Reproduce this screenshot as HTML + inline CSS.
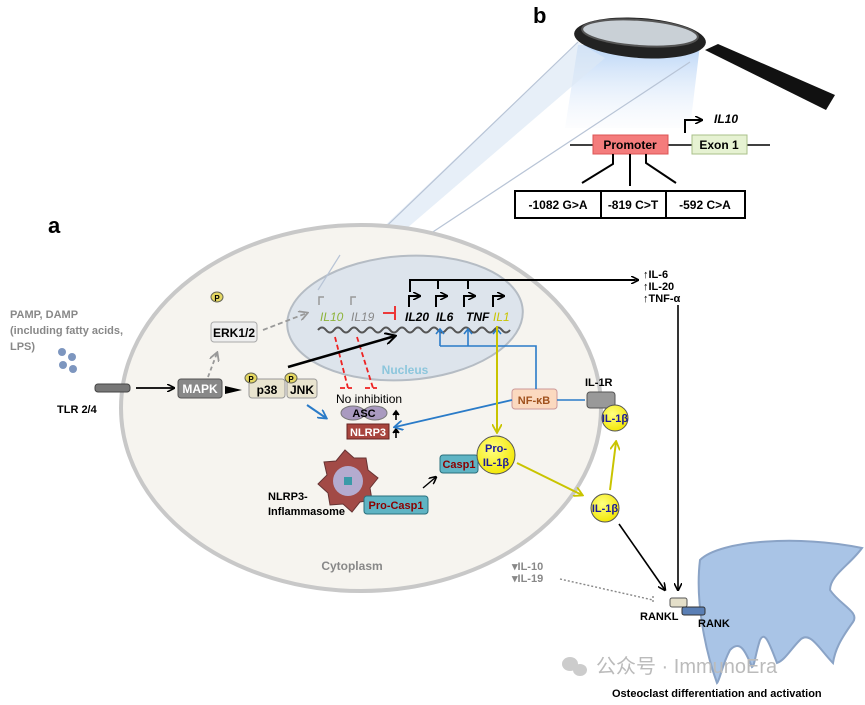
<!DOCTYPE html>
<html><head><meta charset="utf-8"><style>
html,body{margin:0;padding:0;background:#fff;}
svg{display:block;font-family:"Liberation Sans","Noto Sans CJK SC",sans-serif;}
</style></head><body>
<svg width="865" height="705" viewBox="0 0 865 705" xmlns="http://www.w3.org/2000/svg">
<defs>
<marker id="ak" markerWidth="8" markerHeight="8" refX="7" refY="4" orient="auto" markerUnits="userSpaceOnUse"><path d="M0,0 L8,4 L0,8" fill="none" stroke="#000" stroke-width="1.6"/></marker>
<marker id="ab" markerWidth="10" markerHeight="10" refX="8" refY="5" orient="auto" markerUnits="userSpaceOnUse"><path d="M0,0 L9,5 L0,10" fill="none" stroke="#2a7bc8" stroke-width="1.8"/></marker>
<marker id="ay" markerWidth="10" markerHeight="10" refX="8" refY="5" orient="auto" markerUnits="userSpaceOnUse"><path d="M0,0 L9,5 L0,10" fill="none" stroke="#c9c400" stroke-width="1.8"/></marker>
<marker id="ag" markerWidth="10" markerHeight="10" refX="8" refY="5" orient="auto" markerUnits="userSpaceOnUse"><path d="M0,0 L9,5 L0,10" fill="none" stroke="#999" stroke-width="1.8"/></marker>
<marker id="abk" markerWidth="12" markerHeight="12" refX="10" refY="6" orient="auto" markerUnits="userSpaceOnUse"><path d="M0,0 L11,6 L0,12" fill="none" stroke="#000" stroke-width="2"/></marker>
<linearGradient id="cone" x1="0" y1="0" x2="0" y2="1"><stop offset="0" stop-color="#6fa8ee" stop-opacity="0.8"/><stop offset="1" stop-color="#dfe9f7" stop-opacity="0.15"/></linearGradient>
<radialGradient id="yel" cx="0.4" cy="0.35" r="0.7"><stop offset="0" stop-color="#ffff80"/><stop offset="1" stop-color="#f2e600"/></radialGradient>
</defs>

<!-- light cone -->
<polygon points="578,45 700,45 690,128 565,128" fill="url(#cone)" opacity="0.6"/>
<polygon points="578,42 605,58 335,290 315,292" fill="#dde8f5" opacity="0.7"/>
<line x1="578" y1="42" x2="318" y2="292" stroke="#b8c4d6" stroke-width="1.2"/>
<line x1="690" y1="62" x2="345" y2="290" stroke="#b8c4d6" stroke-width="1.2"/>

<!-- magnifier -->
<polygon points="705,50 718,44 835,95 826,110" fill="#111"/>
<ellipse cx="640" cy="38" rx="66" ry="20" fill="#222" transform="rotate(4 640 38)"/>
<ellipse cx="640" cy="33" rx="58" ry="13" fill="#c9d0d6" stroke="#555" stroke-width="2" transform="rotate(4 640 33)"/>

<text x="533" y="23" font-size="22" font-weight="bold">b</text>
<text x="48" y="233" font-size="22" font-weight="bold">a</text>

<!-- gene structure -->
<line x1="570" y1="145" x2="770" y2="145" stroke="#000" stroke-width="1.5"/>
<rect x="593" y="135" width="75" height="19" fill="#f47c7c" stroke="#d55"/>
<text x="630" y="149" font-size="12" font-weight="bold" text-anchor="middle">Promoter</text>
<rect x="692" y="135" width="55" height="19" fill="#e6f2d2" stroke="#aac08a"/>
<text x="719" y="149" font-size="12" font-weight="bold" text-anchor="middle">Exon 1</text>
<path d="M685,133 V120 H702" fill="none" stroke="#000" stroke-width="2" marker-end="url(#ak)"/>
<text x="714" y="123" font-size="12" font-weight="bold" font-style="italic">IL10</text>
<path d="M613,154 V164 L582,183 M630,154 V186 M646,154 V163 L676,183" fill="none" stroke="#000" stroke-width="2"/>
<rect x="515" y="191" width="230" height="27" fill="#fff" stroke="#000" stroke-width="2"/>
<line x1="601" y1="191" x2="601" y2="218" stroke="#000" stroke-width="2"/>
<line x1="666" y1="191" x2="666" y2="218" stroke="#000" stroke-width="2"/>
<text x="558" y="209" font-size="12" font-weight="bold" text-anchor="middle">-1082 G&gt;A</text>
<text x="633" y="209" font-size="12" font-weight="bold" text-anchor="middle">-819 C&gt;T</text>
<text x="705" y="209" font-size="12" font-weight="bold" text-anchor="middle">-592 C&gt;A</text>

<!-- cell -->
<ellipse cx="361" cy="408" rx="240" ry="183" fill="#f6f4ef" stroke="#c8c8c8" stroke-width="4"/>
<ellipse cx="405" cy="318" rx="118" ry="62" fill="#dde4ec" stroke="#b5bcc4" stroke-width="2" transform="rotate(-4 405 318)"/>
<line x1="318" y1="290" x2="340" y2="255" stroke="#b8c4d6" stroke-width="1.2"/>
<text x="405" y="374" font-size="12" font-weight="bold" fill="#8cc6dc" text-anchor="middle">Nucleus</text>
<text x="352" y="570" font-size="12" font-weight="bold" fill="#888" text-anchor="middle">Cytoplasm</text>

<!-- DNA -->
<path d="M318,330 q4,-5 8,0 t8,0 t8,0 t8,0 t8,0 t8,0 t8,0 t8,0 t8,0 t8,0 t8,0 t8,0 t8,0 t8,0 t8,0 t8,0 t8,0 t8,0 t8,0 t8,0 t8,0 t8,0 t8,0 t8,0" fill="none" stroke="#555" stroke-width="2"/>
<g fill="none" stroke="#999" stroke-width="1.5"><path d="M319,305 v-8 h5"/><path d="M351,305 v-8 h5"/></g>
<g fill="none" stroke="#000" stroke-width="2">
<path d="M409,307 v-11 h11" marker-end="url(#ak)"/><path d="M436,307 v-11 h11" marker-end="url(#ak)"/>
<path d="M464,307 v-11 h11" marker-end="url(#ak)"/><path d="M493,307 v-11 h11" marker-end="url(#ak)"/>
<path d="M410,292 v-12 h225" /><path d="M438,280 v9 M468,280 v9"/>
</g>
<line x1="630" y1="280" x2="638" y2="280" stroke="#000" stroke-width="1.5" marker-end="url(#ak)"/>
<text x="320" y="321" font-size="12" font-style="italic" fill="#8db33a">IL10</text>
<text x="351" y="321" font-size="12" font-style="italic" fill="#888">IL19</text>
<text x="405" y="321" font-size="12" font-weight="bold" font-style="italic">IL20</text>
<text x="436" y="321" font-size="12" font-weight="bold" font-style="italic">IL6</text>
<text x="466" y="321" font-size="12" font-weight="bold" font-style="italic">TNF</text>
<text x="493" y="321" font-size="12" font-style="italic" fill="#c9c400">IL1</text>
<path d="M383,313 h11 M395,306 v14" stroke="#e22" stroke-width="1.8" fill="none"/>
<path d="M335,337 L348,388 M340,388 h12 M357,337 L373,388 M365,388 h12" stroke="#e22" stroke-width="1.8" stroke-dasharray="5,3" fill="none"/>
<text x="336" y="403" font-size="12">No  inhibition</text>

<!-- left -->
<text x="10" y="318" font-size="11" font-weight="bold" fill="#888">PAMP, DAMP</text>
<text x="10" y="334" font-size="11" font-weight="bold" fill="#888">(including fatty acids,</text>
<text x="10" y="350" font-size="11" font-weight="bold" fill="#888">LPS)</text>
<g fill="#7d96bf"><circle cx="62" cy="352" r="4"/><circle cx="72" cy="357" r="4"/><circle cx="63" cy="365" r="4"/><circle cx="73" cy="369" r="4"/></g>
<rect x="95" y="384" width="35" height="8" rx="3" fill="#777" stroke="#444"/>
<text x="57" y="413" font-size="11" font-weight="bold">TLR 2/4</text>
<line x1="136" y1="388" x2="174" y2="388" stroke="#000" stroke-width="1.8" marker-end="url(#ak)"/>
<rect x="178" y="379" width="44" height="19" rx="3" fill="#888" stroke="#555"/>
<text x="200" y="393" font-size="12" font-weight="bold" fill="#fff" text-anchor="middle">MAPK</text>
<path d="M225,386 L242,390 L225,394 Z" fill="#000"/>
<line x1="208" y1="377" x2="217" y2="353" stroke="#999" stroke-width="1.8" stroke-dasharray="4,3" marker-end="url(#ag)"/>
<rect x="211" y="322" width="46" height="20" rx="3" fill="#eee" stroke="#aaa"/>
<text x="234" y="337" font-size="12" font-weight="bold" text-anchor="middle">ERK1/2</text>
<ellipse cx="217" cy="297" rx="6" ry="5" fill="#e5d862" stroke="#665"/><text x="217" y="301" font-size="8" font-weight="bold" text-anchor="middle">P</text>
<line x1="263" y1="330" x2="307" y2="313" stroke="#999" stroke-width="1.8" stroke-dasharray="5,3" marker-end="url(#ag)"/>
<rect x="249" y="379" width="36" height="19" rx="3" fill="#e9e4cf" stroke="#999"/>
<text x="267" y="394" font-size="12" font-weight="bold" text-anchor="middle">p38</text>
<rect x="287" y="379" width="30" height="19" rx="3" fill="#e9e4cf" stroke="#999"/>
<text x="302" y="394" font-size="12" font-weight="bold" text-anchor="middle">JNK</text>
<ellipse cx="251" cy="378" rx="6" ry="5" fill="#e5d862" stroke="#665"/><text x="251" y="382" font-size="8" font-weight="bold" text-anchor="middle">P</text>
<ellipse cx="291" cy="378" rx="6" ry="5" fill="#e5d862" stroke="#665"/><text x="291" y="382" font-size="8" font-weight="bold" text-anchor="middle">P</text>
<line x1="288" y1="367" x2="395" y2="336" stroke="#000" stroke-width="2.5" marker-end="url(#abk)"/>
<line x1="307" y1="405" x2="326" y2="418" stroke="#2a7bc8" stroke-width="2" marker-end="url(#ab)"/>

<!-- ASC NLRP3 -->
<ellipse cx="353" cy="413" rx="12" ry="7" fill="#a99ac0" stroke="#777"/>
<ellipse cx="375" cy="413" rx="12" ry="7" fill="#a99ac0" stroke="#777"/>
<text x="364" y="417" font-size="11" font-weight="bold" text-anchor="middle">ASC</text>
<rect x="347" y="424" width="42" height="15" fill="#a8453e" stroke="#622"/>
<text x="368" y="436" font-size="11" font-weight="bold" fill="#fff" text-anchor="middle">NLRP3</text>
<path d="M396,420 v-8 M393,415 l3,-4 l3,4 M396,438 v-8 M393,433 l3,-4 l3,4" stroke="#000" stroke-width="1.6" fill="#000"/>

<!-- inflammasome -->
<polygon points="345,450 354,458 366,458 368,470 378,478 370,488 372,500 360,502 352,512 343,504 330,505 328,493 318,484 327,475 324,462 336,461" fill="#a24a46" stroke="#633"/>
<circle cx="348" cy="481" r="15" fill="#b4abcf"/>
<rect x="344" y="477" width="8" height="8" fill="#3a9aa8"/>
<text x="268" y="500" font-size="11" font-weight="bold">NLRP3-</text>
<text x="268" y="515" font-size="11" font-weight="bold">Inflammasome</text>
<rect x="364" y="496" width="64" height="18" rx="3" fill="#5fb4c4" stroke="#2a6f7c"/>
<text x="396" y="509" font-size="11" font-weight="bold" fill="#8b0000" text-anchor="middle">Pro-Casp1</text>
<line x1="423" y1="488" x2="436" y2="477" stroke="#000" stroke-width="1.4" marker-end="url(#ak)"/>
<rect x="440" y="455" width="38" height="18" rx="3" fill="#5fb4c4" stroke="#2a6f7c"/>
<text x="459" y="468" font-size="11" font-weight="bold" fill="#8b0000" text-anchor="middle">Casp1</text>
<circle cx="496" cy="455" r="19" fill="url(#yel)" stroke="#555"/>
<text x="496" y="452" font-size="11" font-weight="bold" fill="#1a1a9a" text-anchor="middle">Pro-</text>
<text x="496" y="466" font-size="11" font-weight="bold" fill="#1a1a9a" text-anchor="middle">IL-1β</text>

<!-- NF-kB -->
<rect x="512" y="389" width="45" height="20" rx="3" fill="#fbd9bf" stroke="#c99"/>
<text x="534" y="404" font-size="11" font-weight="bold" fill="#a0521e" text-anchor="middle">NF-κB</text>
<path d="M536,389 V346 H440 M468,346 V330 M440,346 V330 M497,346 V330" fill="none" stroke="#2a7bc8" stroke-width="1.6"/>
<path d="M436,334 l4,-5 l4,5 M464,334 l4,-5 l4,5 M493,334 l4,-5 l4,5" fill="none" stroke="#2a7bc8" stroke-width="1.6"/>
<line x1="512" y1="400" x2="395" y2="427" stroke="#2a7bc8" stroke-width="1.8" marker-end="url(#ab)"/>
<line x1="557" y1="400" x2="585" y2="400" stroke="#2a7bc8" stroke-width="1.6"/>
<line x1="497" y1="326" x2="497" y2="432" stroke="#c9c400" stroke-width="2" marker-end="url(#ay)"/>
<line x1="517" y1="463" x2="582" y2="495" stroke="#c9c400" stroke-width="2" marker-end="url(#ay)"/>
<line x1="610" y1="490" x2="616" y2="442" stroke="#c9c400" stroke-width="2" marker-end="url(#ay)"/>

<!-- IL-1R -->
<text x="585" y="386" font-size="11" font-weight="bold">IL-1R</text>
<rect x="587" y="392" width="28" height="16" rx="3" fill="#999" stroke="#555"/>
<circle cx="615" cy="418" r="13" fill="url(#yel)" stroke="#555"/>
<text x="615" y="422" font-size="11" font-weight="bold" fill="#1a1a9a" text-anchor="middle">IL-1β</text>
<circle cx="605" cy="508" r="14" fill="url(#yel)" stroke="#555"/>
<text x="605" y="512" font-size="11" font-weight="bold" fill="#1a1a9a" text-anchor="middle">IL-1β</text>
<line x1="619" y1="524" x2="665" y2="590" stroke="#000" stroke-width="1.6" marker-end="url(#ak)"/>

<!-- cytokines top right -->
<text x="643" y="278" font-size="11" font-weight="bold">↑IL-6</text>
<text x="643" y="290" font-size="11" font-weight="bold">↑IL-20</text>
<text x="643" y="302" font-size="11" font-weight="bold">↑TNF-α</text>
<line x1="678" y1="305" x2="678" y2="590" stroke="#000" stroke-width="1.6" marker-end="url(#ak)"/>

<text x="512" y="570" font-size="11" font-weight="bold" fill="#888">▾IL-10</text>
<text x="512" y="582" font-size="11" font-weight="bold" fill="#888">▾IL-19</text>
<path d="M560,579 L653,600 M653,596 v8" stroke="#888" stroke-width="1.4" stroke-dasharray="2,2" fill="none"/>

<!-- osteoclast -->
<path d="M700,560 C720,540 800,535 862,548 C850,565 830,575 830,590 C840,605 860,612 853,622 C840,640 835,650 833,663 C820,650 810,630 800,640 C790,650 785,660 777,663 C770,645 765,630 760,640 C755,655 755,665 752,667 C745,650 740,640 730,650 C722,665 720,680 717,683 C705,650 695,600 700,560 Z" fill="#a9c4e6" stroke="#8aa3c6" stroke-width="2"/>
<rect x="670" y="598" width="17" height="9" rx="2" fill="#e4dfc9" stroke="#555"/>
<rect x="682" y="607" width="23" height="8" rx="2" fill="#5a7fb5" stroke="#333"/>
<text x="640" y="620" font-size="11" font-weight="bold">RANKL</text>
<text x="698" y="627" font-size="11" font-weight="bold">RANK</text>
<ellipse cx="570" cy="664" rx="8" ry="7" fill="#ccc"/><ellipse cx="580" cy="670" rx="7" ry="6" fill="#ccc"/>
<text x="596" y="673" font-size="20" fill="#bbb">公众号 · ImmunoEra</text>
<text x="612" y="697" font-size="11" font-weight="bold">Osteoclast differentiation and activation</text>
</svg>
</body></html>
